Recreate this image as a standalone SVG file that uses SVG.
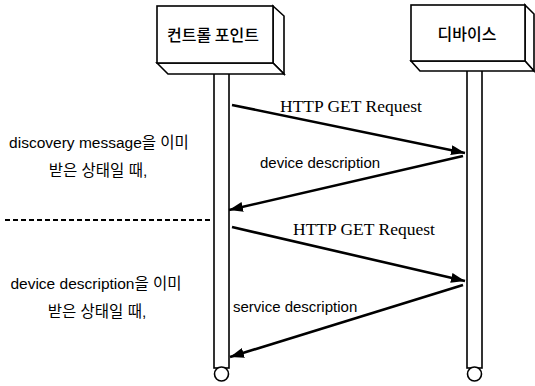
<svg xmlns="http://www.w3.org/2000/svg" width="535" height="386" viewBox="0 0 535 386">
  <style>
    .box { fill: #fff; stroke: #000; stroke-width: 1.6; stroke-linejoin: miter; }
    .life { fill: #fff; stroke: #000; stroke-width: 1.6; }
    .msg { fill: none; stroke: #000; stroke-width: 2.6; }
    .head { fill: #000; }
    .title { font-family: "Noto Sans CJK KR", sans-serif; font-size: 16px; font-weight: 500; fill: #000; text-anchor: middle; }
    .serif { font-family: "Liberation Serif", serif; font-size: 17.5px; fill: #000; }
    .sans { font-family: "Liberation Sans", "Noto Sans CJK KR", sans-serif; font-size: 15px; fill: #000; }
    .note { font-family: "Liberation Sans", "Noto Sans CJK KR", sans-serif; font-size: 15.5px; fill: #000; text-anchor: middle; }
    .sep { stroke: #000; stroke-width: 2; stroke-dasharray: 5 3; fill: none; }
  </style>
  <defs>
    <marker id="arrow" viewBox="0 0 14 10" refX="14" refY="5" markerWidth="14" markerHeight="10" markerUnits="userSpaceOnUse" orient="auto">
      <path class="head" d="M0,0 L14,5 L0,10 Z"/>
    </marker>
  </defs>

  <!-- control point: box and lifeline -->
  <g id="control-point">
    <rect class="life" x="214" y="70" width="15" height="298"/>
    <circle class="life" cx="221.5" cy="374" r="7"/>
    <polygon class="box" points="273,6 284,16 284,74 273,63"/>
    <polygon class="box" points="157,63 168,74 284,74 273,63"/>
    <rect class="box" x="157" y="6" width="116" height="57"/>
    <text class="title" x="213" y="41">컨트롤 포인트</text>
  </g>

  <!-- device: box and lifeline -->
  <g id="device">
    <rect class="life" x="467" y="68" width="15" height="300"/>
    <circle class="life" cx="474.5" cy="374" r="7"/>
    <polygon class="box" points="525,5 534,14 534,71 525,61"/>
    <polygon class="box" points="411,61 420,71 534,71 525,61"/>
    <rect class="box" x="411" y="5" width="114" height="56"/>
    <text class="title" x="467" y="40">디바이스</text>
  </g>

  <!-- messages -->
  <g id="connectors">
    <line class="msg" x1="232" y1="105" x2="465" y2="153" marker-end="url(#arrow)"/>
    <line class="msg" x1="463" y1="156" x2="229" y2="210" marker-end="url(#arrow)"/>
    <line class="msg" x1="232" y1="227" x2="465" y2="281" marker-end="url(#arrow)"/>
    <line class="msg" x1="463" y1="285" x2="230" y2="357" marker-end="url(#arrow)"/>
  </g>

  <g id="labels">
    <text class="serif" x="280" y="112">HTTP GET Request</text>
    <text class="sans" x="260" y="168">device description</text>
    <text class="serif" x="293" y="235">HTTP GET Request</text>
    <text class="sans" x="233" y="312">service description</text>
  </g>

  <!-- phase notes and separator -->
  <g id="phase-1">
    <text class="note" x="99" y="148">discovery message을 이미</text>
    <text class="note" x="98" y="176">받은 상태일 때,</text>
  </g>
  <line class="sep" x1="5" y1="220" x2="212" y2="220"/>
  <g id="phase-2">
    <text class="note" x="96" y="289">device description을 이미</text>
    <text class="note" x="97" y="317">받은 상태일 때,</text>
  </g>
</svg>
